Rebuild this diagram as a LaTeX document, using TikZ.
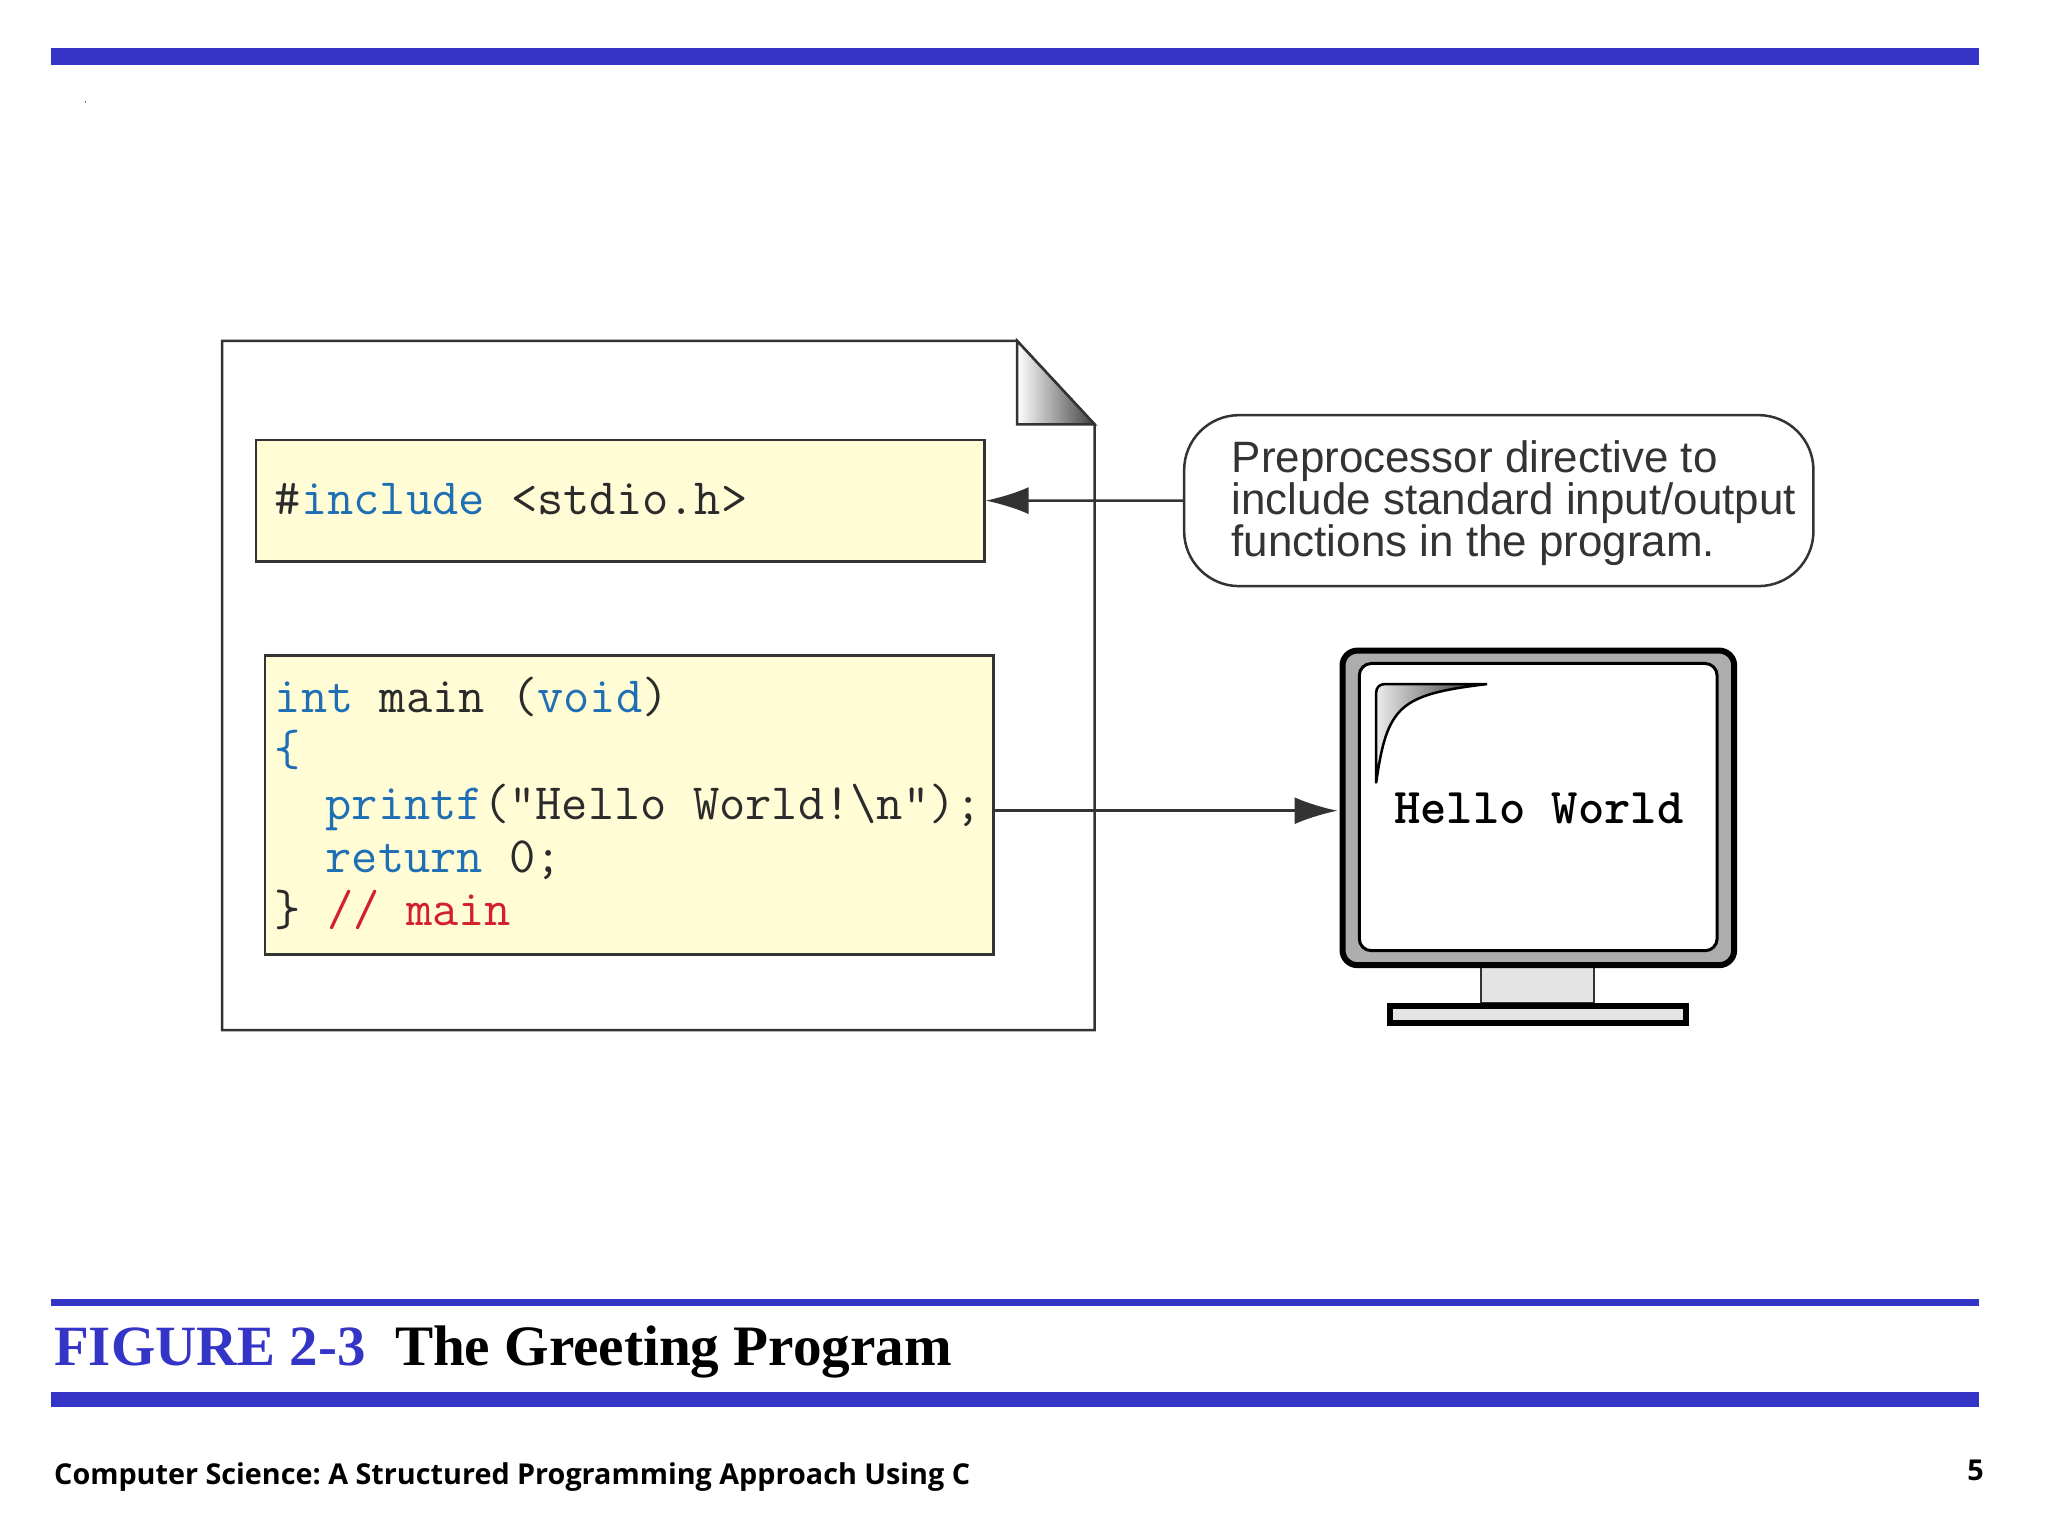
\documentclass[tikz,border=0pt]{standalone}
\usepackage{fontspec}
\usetikzlibrary{arrows.meta,shadings}
\newfontfamily\titlefont{Liberation Serif}
\newfontfamily\labelfont{Liberation Sans}
\newfontfamily\footfont{Open Sans}
\definecolor{barblue}{HTML}{3434C6}
\definecolor{codeblue}{HTML}{1E6FB4}
\definecolor{codered}{HTML}{D3202C}
\definecolor{codefill}{HTML}{FFFCD6}
\definecolor{codeink}{HTML}{2B2B2B}
\definecolor{lineink}{HTML}{333333}
\definecolor{bezel}{HTML}{ADADAD}
\definecolor{standgray}{HTML}{E4E4E4}
\tikzset{
    barline/.style={fill=barblue,draw=none},
    codebox/.style={draw=lineink,fill=codefill,line width=0.25mm,rectangle,inner sep=0pt,anchor=north west},
    codeline/.style={anchor=base west,inner sep=0pt,text=codeink,font=\ttfamily\fontsize{14.5}{15}\selectfont},
    callline/.style={anchor=base west,inner sep=0pt,text=lineink,font=\labelfont\fontsize{12.5}{12}\selectfont},
    conn/.style={-{Latex[length=4.3mm,width=2.7mm]},draw=lineink,line width=0.25mm}
}
\begin{document}
\begin{tikzpicture}
\useasboundingbox (0,0) rectangle (20.48,15.36);

% Bars
\fill[barline] (0.509,14.707) rectangle (19.79,14.877);
\fill[barline] (0.509,2.304) rectangle (19.79,2.369);
\fill[barline] (0.509,1.286) rectangle (19.79,1.442);
\fill[gray] (0.845,14.33) rectangle (0.855,14.35);

% Page with folded corner
\draw[lineink,line width=0.25mm] (2.22,11.952) -- (10.17,11.952) -- (10.945,11.117)
    -- (10.945,5.059) -- (2.22,5.059) -- cycle;
\draw[lineink,line width=0.25mm,left color=white,right color=black!75] (10.17,11.952)
    -- (10.17,11.117) -- (10.945,11.117) -- cycle;

% Include box
\node[codebox,minimum width=7.285cm,minimum height=1.214cm] (inclbox) at (2.546,10.973) {};
\node[codeline] (incl) at (2.742,10.216) {\#\textcolor{codeblue}{include} <stdio.h>};

% Main box
\node[codebox,minimum width=7.286cm,minimum height=2.99cm] (mainbox) at (2.637,8.819) {};
\node[codeline] (line1) at (2.742,8.237) {\textcolor{codeblue}{int} main (\textcolor{codeblue}{void})};
\node[codeline] (line2) at (2.742,7.702) {\textcolor{codeblue}{\{}};
\node[codeline] (line3) at (3.25,7.167) {\textcolor{codeblue}{printf}("Hello World!\textbackslash n");};
\node[codeline] (line4) at (3.25,6.632) {\textcolor{codeblue}{return} 0;};
\node[codeline] (line5) at (2.742,6.109) {\} \textcolor{codered}{// main}};

% Callout
\node[draw=lineink,line width=0.25mm,rectangle,rounded corners=5.5mm,inner sep=0pt,
    minimum width=6.293cm,minimum height=1.71cm,anchor=north west] (callout) at (11.829,11.221) {};
\node[callline] (call1) at (12.31,10.634) {Preprocessor directive to};
\node[callline] (call2) at (12.31,10.216) {include standard input/output};
\node[callline] (call3) at (12.31,9.798) {functions in the program.};

% Monitor
\node[draw=lineink,fill=standgray,line width=0.2mm,rectangle,inner sep=0pt,anchor=north,
    minimum width=1.135cm,minimum height=0.43cm] (neck) at (15.373,5.77) {};
\node[draw=black,fill=standgray,line width=0.6mm,rectangle,inner sep=0pt,anchor=north west,
    minimum width=2.963cm,minimum height=0.17cm] (base) at (13.866,5.327) {};
\node[draw=black,fill=bezel,line width=0.6mm,rectangle,rounded corners=1.5mm,inner sep=0pt,anchor=north west,
    minimum width=3.917cm,minimum height=3.146cm] (monitor) at (13.395,8.884) {};
\node[draw=black,fill=white,line width=0.3mm,rectangle,rounded corners=1.2mm,inner sep=0pt,anchor=north west,
    minimum width=3.578cm,minimum height=2.872cm] (screen) at (13.578,8.74) {};
\draw[black,line width=0.25mm,left color=standgray!70,right color=black!85] (13.761,7.527) -- (13.761,8.43)
    .. controls (13.761,8.49) and (13.80,8.519) .. (13.85,8.519) -- (14.871,8.519)
    .. controls (13.99,8.415) and (13.87,8.30) .. cycle;
\node[anchor=base west,inner sep=0pt,font=\ttfamily\bfseries\fontsize{14.25}{15}\selectfont] (hello) at (13.935,7.125) {Hello World};

% Connectors
\coordinate (printout) at ([yshift=-0.59mm]mainbox.east);
\draw[conn] (callout.west) -- (inclbox.east);
\draw[conn,shorten >=0.2mm] (printout) -- (printout -| monitor.west);

% Caption
\node[anchor=base west,inner sep=0pt,text=barblue,font=\titlefont\bfseries\fontsize{16.2}{18}\selectfont] (figlabel) at (0.535,1.703) {FIGURE 2-3};
\node[anchor=base west,inner sep=0pt,font=\titlefont\bfseries\fontsize{16.27}{18}\selectfont] (figtitle) at (3.943,1.703) {The Greeting Program};

% Footer
\node[anchor=base west,inner sep=0pt,font=\footfont\bfseries\fontsize{8.18}{10}\selectfont] (footer) at (0.535,0.515)
    {\frenchspacing Computer Science: A Structured Programming Approach Using C};
\node[anchor=base east,inner sep=0pt,font=\footfont\bfseries\fontsize{8.18}{10}\selectfont] (pageno) at (19.845,0.555) {5};
\end{tikzpicture}
\end{document}
